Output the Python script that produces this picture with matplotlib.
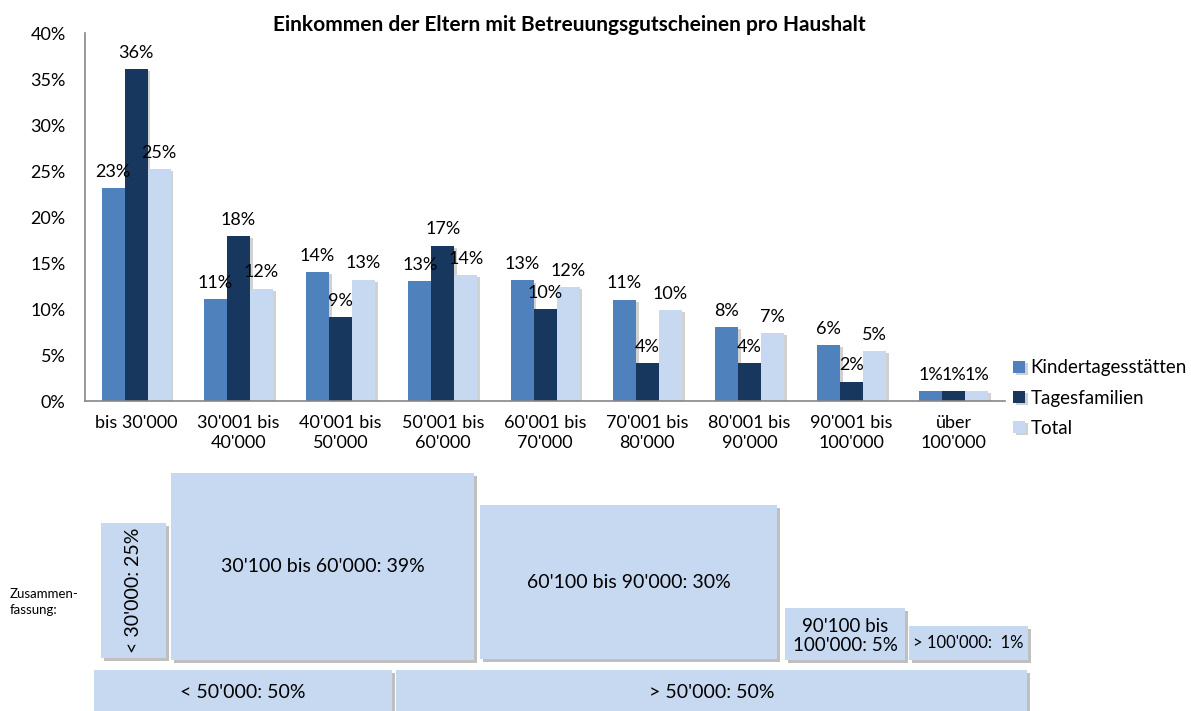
import matplotlib.pyplot as plt
import matplotlib.patheffects as pe
from matplotlib.patches import Rectangle
import numpy as np

plt.rcParams['font.family'] = ['Lato', 'DejaVu Sans']

title = "Einkommen der Eltern mit Betreuungsgutscheinen pro Haushalt"
categories = ["bis 30'000", "30'001 bis\n40'000", "40'001 bis\n50'000", "50'001 bis\n60'000",
              "60'001 bis\n70'000", "70'001 bis\n80'000", "80'001 bis\n90'000",
              "90'001 bis\n100'000", "über\n100'000"]
kita = [23.1, 11.1, 14.0, 13.0, 13.1, 11.0, 8.0, 6.1, 1.1]
tagesfam = [36.1, 17.9, 9.1, 16.9, 10.0, 4.1, 4.1, 2.1, 1.1]
total = [25.2, 12.2, 13.2, 13.7, 12.4, 9.9, 7.4, 5.4, 1.1]
series_names = ["Kindertagesstätten", "Tagesfamilien", "Total"]

summary_labels = ["< 30'000: 25%", "30'100 bis 60'000: 39%", "60'100 bis 90'000: 30%",
                  "90'100 bis\n100'000: 5%", "> 100'000:  1%"]
split_labels = ["< 50'000: 50%", "> 50'000: 50%"]

colors = ['#4F81BD', '#17375E', '#C6D9F1']
W, H = 1191, 711

fig = plt.figure(figsize=(W / 100, H / 100), dpi=100)
ax = fig.add_axes([85 / W, 1 - 401 / H, 920 / W, 368 / H])

shadow = [pe.SimplePatchShadow(offset=(2, -1.5), shadow_rgbFace='#000000', alpha=0.18), pe.Normal()]
x = np.arange(len(categories))
bw = 0.225
for i, (vals, name) in enumerate(zip([kita, tagesfam, total], series_names)):
    bars = ax.bar(x + (i - 1) * bw, vals, bw, color=colors[i], label=name, zorder=2)
    for b in bars:
        b.set_path_effects(shadow)
    ax.bar_label(bars, labels=['%.0f%%' % v for v in vals], padding=6, fontsize=13)

ax.set_xlim(-0.5, len(categories) - 0.5)
ax.set_ylim(0, 40)
ax.set_yticks(np.arange(0, 41, 5))
ax.set_yticklabels(['%d%%' % v for v in range(0, 41, 5)], fontsize=13)
ax.set_xticks(x)
ax.set_xticklabels(categories, fontsize=13, linespacing=1.3)
ax.tick_params(length=0)
ax.tick_params(axis='x', pad=10)
ax.tick_params(axis='y', pad=14)
for s in ['top', 'right']:
    ax.spines[s].set_visible(False)
for s in ['left', 'bottom']:
    ax.spines[s].set_color('#868686')
    ax.spines[s].set_linewidth(1.2)

fig.text(569 / W, 1 - 25 / H, title, ha='center', va='center', fontsize=15, fontweight='bold')

handles, labels = ax.get_legend_handles_labels()
leg = fig.legend(handles, labels, loc='upper left', bbox_to_anchor=(1006 / W, 1 - 352 / H),
                 frameon=False, fontsize=13.5, handlelength=0.6, handleheight=0.6,
                 handletextpad=0.3, labelspacing=0.7, borderaxespad=0)

# summary boxes (figure pixel coordinates)
ov = fig.add_axes([0, 0, 1, 1])
ov.set_xlim(0, W)
ov.set_ylim(H, 0)
ov.axis('off')
box_shadow = [pe.SimplePatchShadow(offset=(2.5, -2.5), shadow_rgbFace='#000000', alpha=0.25), pe.Normal()]
boxes = [(101, 523, 65, 135), (171, 473, 303, 187), (480, 505, 297, 154),
         (785, 608, 120, 52), (909, 626, 119, 34)]
for (bx, by, bwid, bh), lab in zip(boxes, summary_labels):
    r = Rectangle((bx, by), bwid, bh, facecolor='#C6D9F1', edgecolor='none')
    r.set_path_effects(box_shadow)
    ov.add_patch(r)
rot = [90, 0, 0, 0, 0]
sizes = [14, 14, 14, 13.5, 12]
for (bx, by, bwid, bh), lab, ro, fs in zip(boxes, summary_labels, rot, sizes):
    ov.text(bx + bwid / 2, by + bh / 2 + (2 if '\n' in lab else 0), lab,
            ha='center', va='center', rotation=ro, fontsize=fs, linespacing=1.2)
split_boxes = [(94, 670, 298, 50), (396, 670, 631, 50)]
for (bx, by, bwid, bh), lab in zip(split_boxes, split_labels):
    r = Rectangle((bx, by), bwid, bh, facecolor='#C6D9F1', edgecolor='none')
    r.set_path_effects(box_shadow)
    ov.add_patch(r)
    ov.text(bx + bwid / 2, 692, lab, ha='center', va='center', fontsize=14)

ov.text(10, 602, "Zusammen-\nfassung:", ha='left', va='center', fontsize=9.5, linespacing=1.5)

fig.savefig('out.png', dpi=100)
